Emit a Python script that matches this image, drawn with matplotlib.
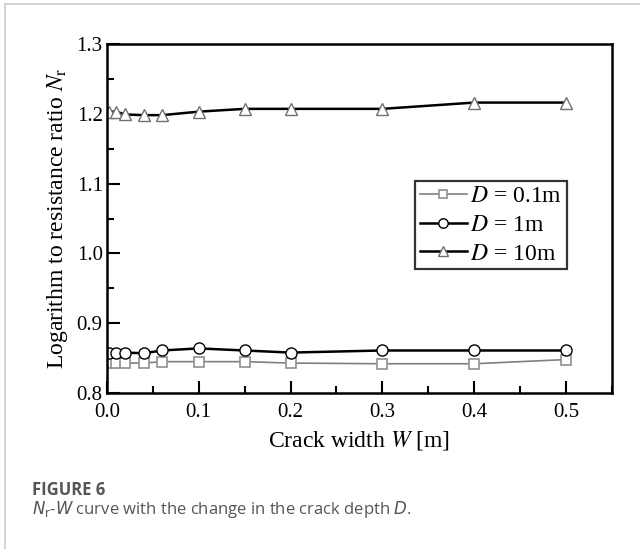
import numpy as np
import matplotlib
matplotlib.use('Agg')
import matplotlib.pyplot as plt
from matplotlib.ticker import MultipleLocator, FormatStrFormatter
from matplotlib.lines import Line2D

plt.rcParams['font.family'] = ['Liberation Serif', 'DejaVu Serif']
plt.rcParams['mathtext.fontset'] = 'stix'

# crack width W [m]
W = [0.002, 0.01, 0.02, 0.04, 0.06, 0.1, 0.15, 0.2, 0.3, 0.4, 0.5]
# log resistance ratio for each crack depth
Nr_d01 = [0.843, 0.843, 0.843, 0.843, 0.845, 0.845, 0.845, 0.843, 0.842, 0.842, 0.848]
Nr_d1 = [0.858, 0.858, 0.858, 0.857, 0.861, 0.864, 0.861, 0.858, 0.861, 0.861, 0.861]
Nr_d10 = [1.203, 1.203, 1.199, 1.198, 1.198, 1.203, 1.207, 1.207, 1.207, 1.216, 1.216]
labels = ['$D$ = 0.1m', '$D$ = 1m', '$D$ = 10m']

fig = plt.figure(figsize=(6.4, 5.49), dpi=100)
ax = fig.add_axes([0.167, 0.284, 0.789, 0.636])

ax.plot(W, Nr_d01, color='#808080', lw=1.2, marker='s', ms=7,
        mfc='white', mec='#909090', mew=1.2, label=labels[0])
ax.plot(W, Nr_d1, color='black', lw=1.8, marker='o', ms=8,
        mfc='white', mec='black', mew=1.0, label=labels[1])
ax.plot(W, Nr_d10, color='black', lw=1.8, marker='^', ms=9,
        mfc='white', mec='#707070', mew=1.0, label=labels[2])

ax.set_xlim(0, 0.55)
ax.set_ylim(0.8, 1.3)
ax.xaxis.set_major_locator(MultipleLocator(0.1))
ax.xaxis.set_minor_locator(MultipleLocator(0.05))
ax.yaxis.set_major_locator(MultipleLocator(0.1))
ax.yaxis.set_minor_locator(MultipleLocator(0.05))
ax.xaxis.set_major_formatter(FormatStrFormatter('%.1f'))
ax.yaxis.set_major_formatter(FormatStrFormatter('%.1f'))
ax.tick_params(which='both', direction='in', top=False, right=False,
               width=1.5, labelsize=15)
ax.tick_params(axis='x', pad=7)
ax.tick_params(axis='y', pad=3)
ax.tick_params(which='major', length=9)
ax.tick_params(which='minor', length=5)
ax.xaxis.set_minor_formatter(plt.NullFormatter())
for s in ax.spines.values():
    s.set_linewidth(1.8)

ax.set_xlabel('Crack width $W$ [m]', fontsize=17, labelpad=5)
ax.set_ylabel('Logarithm to resistance ratio $N_\\mathrm{r}$', fontsize=17, labelpad=5)

leg = ax.legend(loc='upper left', bbox_to_anchor=(0.61, 0.607), fontsize=17,
                frameon=True, fancybox=False, shadow=False, handlelength=2.0,
                handletextpad=0.15, borderpad=0.2, labelspacing=0.3,
                borderaxespad=0, markerscale=0.85)
leg.get_frame().set_edgecolor('black')
leg.get_frame().set_linewidth(1.6)

# page frame and caption
fig.add_artist(Line2D([0.008, 1.0], [0.993, 0.993], color='#cccccc', lw=1.2))
fig.add_artist(Line2D([0.008, 0.008], [0.0, 0.993], color='#cccccc', lw=1.2))
fig.text(0.05, 0.099, 'FIGURE 6', fontsize=12, fontweight='bold',
         color='#555555', family='Open Sans', va='baseline')
fig.text(0.05, 0.064, '$N_\\mathrm{r}$-$W$ curve with the change in the crack depth $D$.',
         fontsize=12, color='#555555', family='Open Sans', va='baseline',
         math_fontfamily='dejavusans')

fig.savefig('out.png', dpi=100)
